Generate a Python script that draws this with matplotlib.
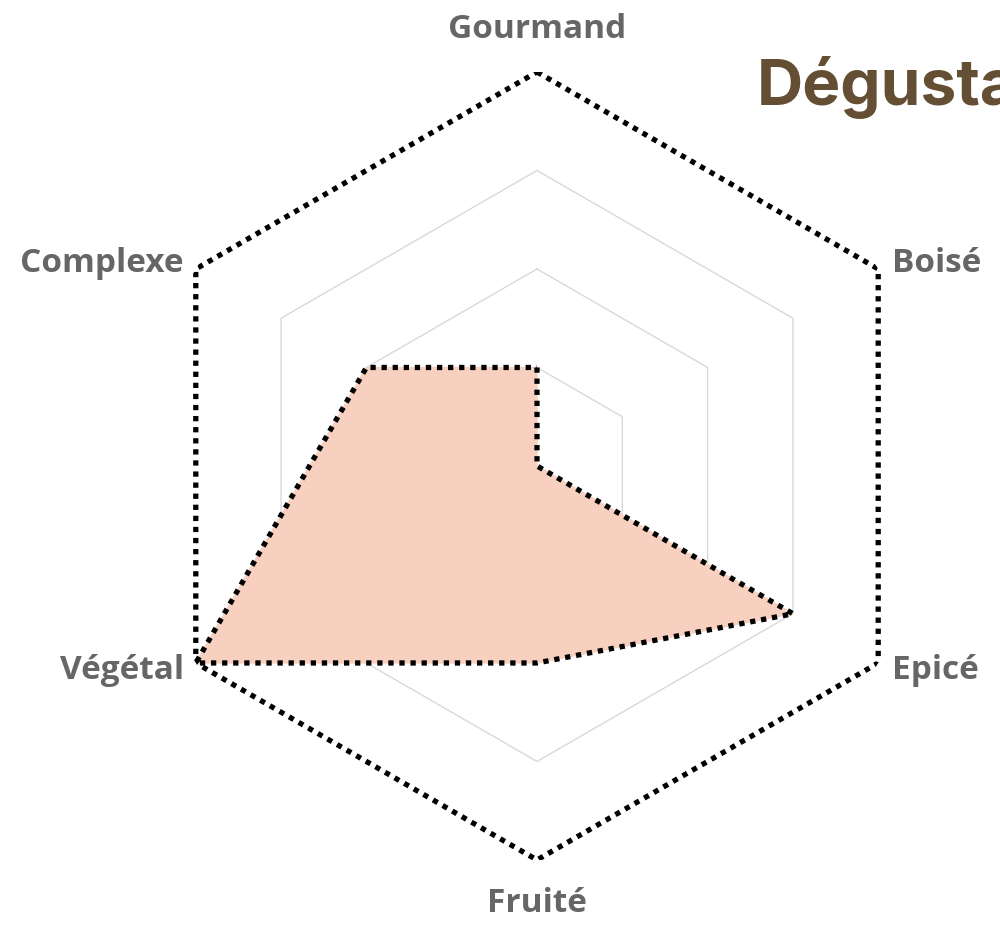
import numpy as np
import matplotlib.pyplot as plt

categories = ["Gourmand", "Boisé", "Epicé", "Fruité", "Végétal", "Complexe"]
values = [1, 0, 3, 2, 4, 2]
max_values = [4, 4, 4, 4, 4, 4]
grid_levels = [1, 2, 3]
title = "Dégustation"

n = len(categories)
angles = np.arange(n) * 2 * np.pi / n
closed = np.append(angles, angles[0])

fig = plt.figure(figsize=(10, 9.3), dpi=100)
ax = fig.add_axes([0.143, 0.0753, 0.788, 0.8473], polar=True)
ax.set_theta_offset(np.pi / 2)
ax.set_theta_direction(-1)
ax.set_ylim(0, 4)
ax.axis("off")

for lvl in grid_levels:
    ax.plot(closed, [lvl] * (n + 1), color="#d9d9d9", lw=1, zorder=1)

vals = values + values[:1]
ax.fill(closed, vals, color="#f7d0c0", zorder=2)
ax.plot(closed, vals, color="black", lw=3.8, linestyle=(0, (1, 1.1)), zorder=3)

mx = max_values + max_values[:1]
ax.plot(closed, mx, color="black", lw=3.8, linestyle=(0, (1, 1.1)), zorder=3)

# category labels
label_kw = dict(fontsize=24, fontweight="bold", color="#666666", family=["Open Sans", "DejaVu Sans"])
fig.text(0.537, 1 - 30 / 930, categories[0], ha="center", va="center", **label_kw)
fig.text(0.892, 1 - 263 / 930, categories[1], ha="left", va="center", **label_kw)
fig.text(0.892, 1 - 670 / 930, categories[2], ha="left", va="center", **label_kw)
fig.text(0.537, 1 - 903 / 930, categories[3], ha="center", va="center", **label_kw)
fig.text(0.184, 1 - 670 / 930, categories[4], ha="right", va="center", **label_kw)
fig.text(0.184, 1 - 263 / 930, categories[5], ha="right", va="center", **label_kw)

fig.text(0.757, 1 - 105 / 930, title, ha="left", va="baseline", fontsize=46, fontweight="bold",
         color="#654f34", family=["Inter", "DejaVu Sans"])

fig.savefig("out.png", dpi=100)
